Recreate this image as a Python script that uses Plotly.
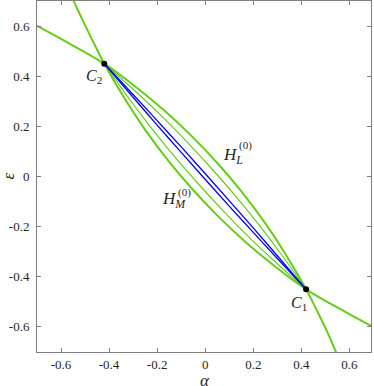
import plotly.graph_objects as go

# points (alpha, epsilon)
c_alpha = [0.42, -0.42]
c_eps = [-0.45, 0.45]

# outer curves H_L^(0) / H_M^(0), carried past C1 and C2 to the frame
hl0_x = [-0.751, -0.667, -0.583, -0.42, -0.282, -0.164, -0.052, 0.054, 0.153, 0.246, 0.332, 0.42, 0.465, 0.508, 0.545, 0.585]
hl0_y = [0.626, 0.584, 0.540, 0.45, 0.352, 0.258, 0.157, 0.050, -0.062, -0.181, -0.306, -0.45, -0.535, -0.620, -0.702, -0.794]
hm0_x = [0.751, 0.667, 0.583, 0.42, 0.282, 0.164, 0.052, -0.054, -0.153, -0.246, -0.332, -0.42, -0.465, -0.508, -0.548, -0.585]
hm0_y = [-0.626, -0.584, -0.540, -0.45, -0.352, -0.258, -0.157, -0.050, 0.062, 0.181, 0.306, 0.45, 0.535, 0.620, 0.702, 0.794]

# inner green pair
hl1_x = [-0.42, -0.293, -0.181, -0.074, 0.030, 0.131, 0.228, 0.321, 0.42]
hl1_y = [0.45, 0.342, 0.241, 0.136, 0.028, -0.083, -0.198, -0.316, -0.45]
hm1_x = [0.42, 0.293, 0.181, 0.074, -0.030, -0.131, -0.228, -0.321, -0.42]
hm1_y = [-0.45, -0.342, -0.241, -0.136, -0.028, 0.083, 0.198, 0.316, 0.45]

# blue pair
hl2_x = [-0.42, -0.304, -0.200, -0.097, 0.006, 0.108, 0.209, 0.310, 0.42]
hl2_y = [0.45, 0.331, 0.223, 0.115, 0.005, -0.105, -0.215, -0.327, -0.45]
hm2_x = [0.42, 0.304, 0.200, 0.097, -0.006, -0.108, -0.209, -0.310, -0.42]
hm2_y = [-0.45, -0.331, -0.223, -0.115, -0.005, 0.105, 0.215, 0.327, 0.45]

tick_vals = [-0.6, -0.4, -0.2, 0, 0.2, 0.4, 0.6]
tick_text = ['-0.6', '-0.4', '-0.2', '0', '0.2', '0.4', '0.6']

green = '#66CC1A'
blue = '#0000FF'
serif = 'Liberation Serif'
txt = '#262626'

fig = go.Figure()
for xs, ys in [(hl0_x, hl0_y), (hm0_x, hm0_y)]:
    fig.add_trace(go.Scatter(x=xs, y=ys, mode='lines', line=dict(color=green, width=2, shape='spline')))
for xs, ys in [(hl1_x, hl1_y), (hm1_x, hm1_y)]:
    fig.add_trace(go.Scatter(x=xs, y=ys, mode='lines', line=dict(color=green, width=1.2, shape='spline')))
for xs, ys in [(hl2_x, hl2_y), (hm2_x, hm2_y)]:
    fig.add_trace(go.Scatter(x=xs, y=ys, mode='lines', line=dict(color=blue, width=1.3, shape='spline')))
fig.add_trace(go.Scatter(x=c_alpha, y=c_eps, mode='markers', marker=dict(color='black', size=6)))

axis_common = dict(
    tickvals=tick_vals, ticktext=tick_text, ticks='inside', ticklen=4, tickwidth=1,
    tickcolor='#808080', showline=True, linecolor='#808080', linewidth=1, mirror='ticks',
    showgrid=False, zeroline=False, automargin=False,
    tickfont=dict(family=serif, size=13, color=txt),
)
fig.update_xaxes(range=[-0.7, 0.69], ticklabelstandoff=0, **axis_common)
fig.update_yaxes(range=[-0.7, 0.7], ticklabelstandoff=4, **axis_common)

ann = [
    dict(x=-0.462, y=0.397, text='<i>C</i><sub>2</sub>'),
    dict(x=0.39, y=-0.506, text='<i>C</i><sub>1</sub>'),
]
for a in ann:
    fig.add_annotation(x=a['x'], y=a['y'], text=a['text'], showarrow=False,
                       font=dict(family=serif, size=16, color=txt))
# H labels: letter with subscript, superscript (0) set above it
fig.add_annotation(x=0.067, y=0.083, text='<i>H</i><sub><i>L</i></sub>', showarrow=False, xanchor='left',
                   font=dict(family=serif, size=17, color=txt))
fig.add_annotation(x=0.134, y=0.122, text='(0)', showarrow=False, xanchor='left',
                   font=dict(family=serif, size=11, color=txt))
fig.add_annotation(x=-0.187, y=-0.092, text='<i>H</i><sub><i>M</i></sub>', showarrow=False, xanchor='left',
                   font=dict(family=serif, size=17, color=txt))
fig.add_annotation(x=-0.12, y=-0.064, text='(0)', showarrow=False, xanchor='left',
                   font=dict(family=serif, size=11, color=txt))
# axis titles
fig.add_annotation(x=0, y=0, xref='x', yref='paper', yshift=-28, xanchor='center', yanchor='middle',
                   text='<i>α</i>', showarrow=False, borderpad=0, font=dict(family=serif, size=17, color=txt))
fig.add_annotation(x=0, y=0, xref='paper', yref='y', xshift=-29, xanchor='center', yanchor='middle',
                   text='<i>ε</i>', showarrow=False, textangle=-90,
                   font=dict(family=serif, size=17, color=txt))

fig.update_layout(
    width=374, height=386, showlegend=False,
    margin=dict(l=37, r=3, t=1, b=34),
    plot_bgcolor='white', paper_bgcolor='white',
)
# page body has a default 8px margin; drop it so the figure sits at the corner
fig.write_html("out.html", config={'displayModeBar': False},
               post_script="document.body.style.margin='0';")
